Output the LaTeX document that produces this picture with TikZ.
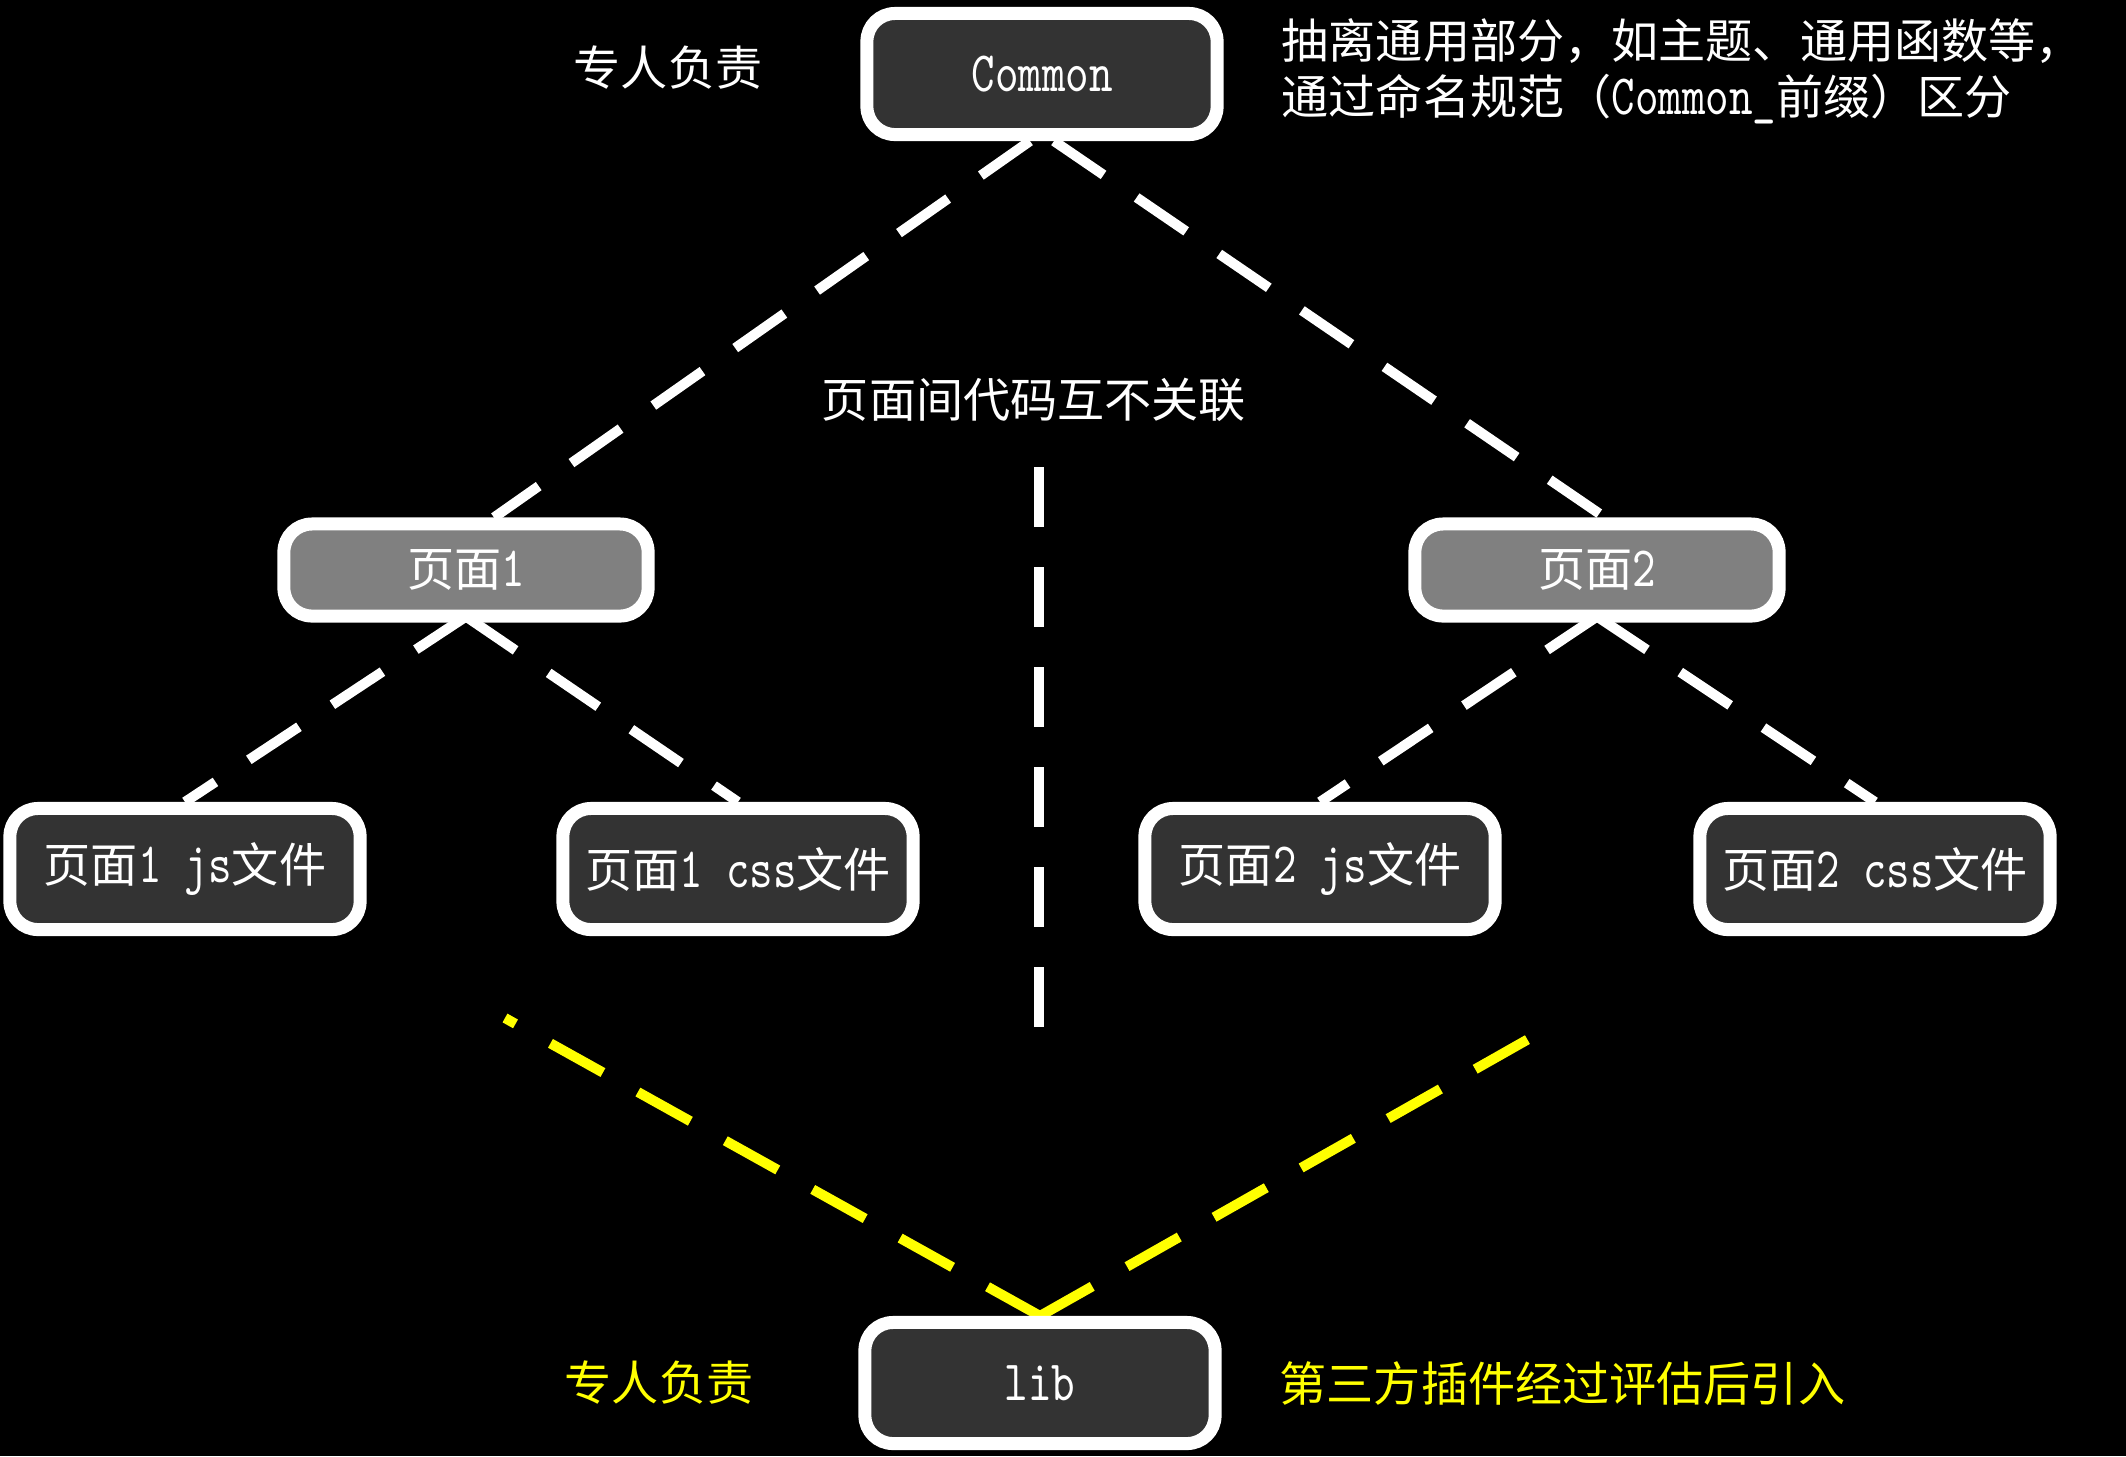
\documentclass[tikz,border=0pt]{standalone}
\usepackage{fontspec}
\setmainfont{Noto Sans CJK SC}
\newfontfamily\lat[FakeStretch=0.785,Scale=1.21]{lmmono10-regular.otf}
\usetikzlibrary{calc}

\pgfdeclarelayer{bg}
\pgfdeclarelayer{edges}
\pgfsetlayers{bg,edges,main}

\definecolor{boxdark}{RGB}{51,51,51}
\definecolor{boxgray}{RGB}{128,128,128}
\definecolor{hiyellow}{RGB}{255,255,0}

\tikzset{
  module/.style={draw=white, line width=0.13cm, rounded corners=0.28cm,
    fill=boxdark, text=white, inner sep=0pt,
    minimum width=3.5cm, minimum height=1.21cm},
  page/.style={module, fill=boxgray, minimum width=3.64cm, minimum height=0.92cm},
  link/.style={draw=white, line width=0.1cm, dash pattern=on 0.6cm off 0.4cm},
  libline/.style={link, draw=hiyellow},
  note/.style={text=white, inner sep=0pt}
}

\begin{document}
\begin{tikzpicture}[x=0.01cm, y=-0.01cm, font=\fontsize{13.4pt}{15.9pt}\selectfont]
      \begin{pgfonlayer}{bg}
        \fill [black] (0,0) rectangle (2126,1456);
      \end{pgfonlayer}
      \useasboundingbox (0,0) rectangle (2126,1456);

      % top: common module
      \node [module] (common) at (1042, 74) {\lat Common};
      \node [note] (ownc) at (668, 68) {专人负责};
      \node [note, anchor=west, align=left] (prefix) at (1281, 71)
            {抽离通用部分，如主题、通用函数等，\\通过命名规范（{\lat Common\_}前缀）区分};

      % pages
      \node [page] (pa) at (466, 570) {页面{\lat 1}};
      \node [page] (pb) at (1597, 570) {页面{\lat 2}};
      \node [note] (apart) at (1034, 400) {页面间代码互不关联};

      \node [module] (pajs)  at (185, 869)  {页面{\lat 1 js}文件};
      \node [module] (pacss) at (738, 869)  {页面{\lat 1 css}文件};
      \node [module] (pbjs)  at (1320, 869) {页面{\lat 2 js}文件};
      \node [module] (pbcss) at (1875, 869) {页面{\lat 2 css}文件};

      % bottom: lib
      \node [module] (lib) at (1040, 1383) {\lat lib};
      \node [note, text=hiyellow] (ownl) at (659, 1383) {专人负责};
      \node [note, text=hiyellow, anchor=west] (third) at (1279, 1383)
            {第三方插件经过评估后引入};

      \coordinate (vtop) at (1039, 467);
      \coordinate (vbot) at (1039, 1027);
      \coordinate (yl) at (505, 1018);
      \coordinate (yr) at (1532, 1037);

      \begin{pgfonlayer}{edges}
        \draw [link] ($ (common.south) + (-12, 0) $) -- ($ (pa.north) + (28, 0) $);
        \draw [link] ($ (common.south) + (12, 0) $) -- ($ (pb.north) + (8, 0) $);
        \foreach \p/\c in {pa/pajs, pa/pacss, pb/pbjs, pb/pbcss}
                 {
                   \draw [link] ($ (\p.south) + (0, -6) $) -- (\c.north);
                 }
        \draw [link] (vtop) -- (vbot);
        \draw [libline] (lib.north) -- (yl);
        \draw [libline] (lib.north) -- (yr);
      \end{pgfonlayer}
    \end{tikzpicture}
\end{document}
